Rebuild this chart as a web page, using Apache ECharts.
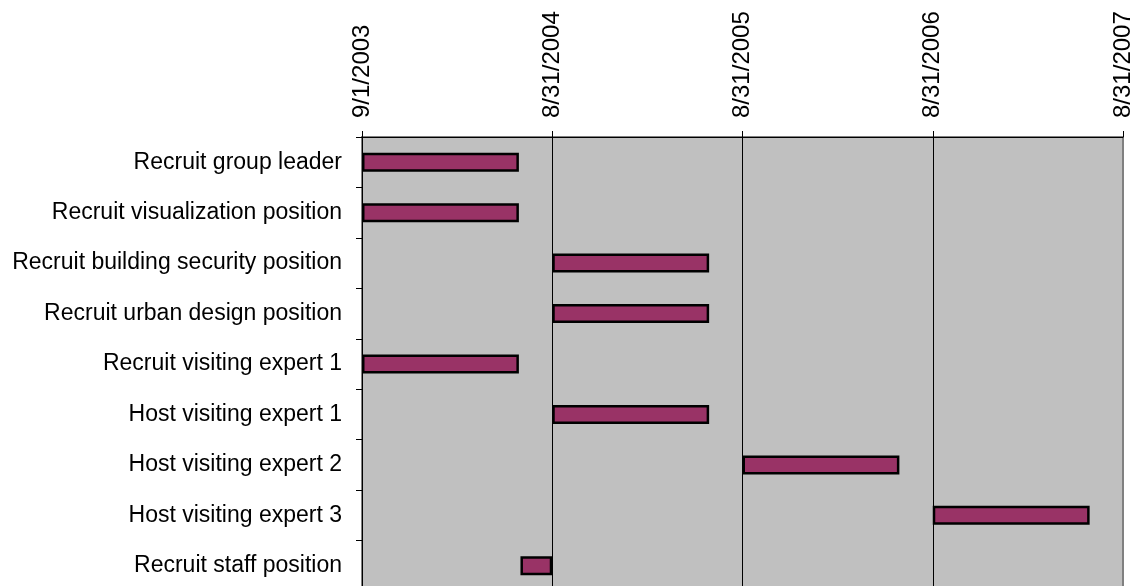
<!DOCTYPE html>
<html>
<head>
<meta charset="utf-8">
<script src="https://cdn.jsdelivr.net/npm/echarts@6/dist/echarts.min.js"></script>
<style>
html,body{margin:0;padding:0;background:#fff;overflow:hidden;}
#chart{width:1135px;height:591px;}
</style>
</head>
<body>
<div id="chart"></div>
<script>
var categories = [
  "Recruit group leader",
  "Recruit visualization position",
  "Recruit building security position",
  "Recruit urban design position",
  "Recruit visiting expert 1",
  "Host visiting expert 1",
  "Host visiting expert 2",
  "Host visiting expert 3",
  "Recruit staff position"
];
var startDates = [
  "2003-09-01", "2003-09-01", "2004-08-31", "2004-08-31", "2003-09-01",
  "2004-08-31", "2005-08-31", "2006-08-31", "2004-07-01"
];
var endDates = [
  "2004-06-28", "2004-06-28", "2005-06-28", "2005-06-28", "2004-06-28",
  "2005-06-28", "2006-06-28", "2007-06-28", "2004-08-31"
];
var axisStart = "2003-09-01";
var tickStepDays = 365;
var axisSpanDays = 1460;

function dayNum(s) {
  var p = s.split("-");
  return Date.UTC(+p[0], +p[1] - 1, +p[2]) / 86400000;
}
var base = dayNum(axisStart);
var offsets = startDates.map(function (s) { return dayNum(s) - base; });
var durations = endDates.map(function (e, i) { return dayNum(e) - dayNum(startDates[i]); });

function fmt(v) {
  var d = new Date((base + v) * 86400000);
  return (d.getUTCMonth() + 1) + "/" + d.getUTCDate() + "/" + d.getUTCFullYear();
}

var FONT = "'Liberation Sans', Arial, sans-serif";
var chart = echarts.init(document.getElementById("chart"), null, {renderer: "canvas"});
chart.setOption({
  animation: false,
  backgroundColor: "#ffffff",
  grid: {
    left: 362, right: 11, top: 137, bottom: 0,
    show: true, backgroundColor: "#C0C0C0", borderColor: "#808080", borderWidth: 2,
    containLabel: false
  },
  xAxis: {
    type: "value", position: "top",
    min: 0, max: axisSpanDays, interval: tickStepDays,
    axisLine: {show: true, lineStyle: {color: "#000", width: 1}},
    axisTick: {show: true, length: 6, lineStyle: {color: "#000"}},
    splitLine: {show: true, showMinLine: false, showMaxLine: false, lineStyle: {color: "#000", width: 1}},
    axisLabel: {
      rotate: -90, margin: 19, fontSize: 24, color: "#000", fontFamily: FONT,
      formatter: fmt, showMinLabel: true, showMaxLabel: true
    }
  },
  yAxis: {
    type: "category", data: categories, inverse: true,
    axisLine: {show: true, lineStyle: {color: "#000", width: 1}},
    axisTick: {show: true, length: 6, lineStyle: {color: "#000"}},
    splitLine: {show: false},
    axisLabel: {margin: 20, fontSize: 23, color: "#000", fontFamily: FONT, padding: [3, 0, 0, 0]}
  },
  series: [
    {
      type: "bar", stack: "g", data: offsets, silent: true,
      itemStyle: {color: "transparent", borderWidth: 0},
      barWidth: 19
    },
    {
      type: "bar", stack: "g", data: durations,
      itemStyle: {color: "#993366", borderColor: "#000", borderWidth: 2.5},
      barWidth: 19
    }
  ]
});
</script>
</body>
</html>
